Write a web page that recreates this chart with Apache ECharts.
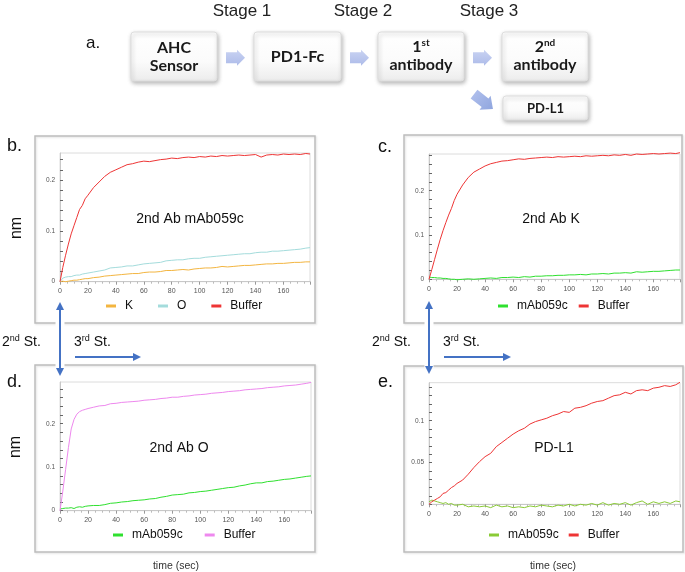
<!DOCTYPE html>
<html><head><meta charset="utf-8">
<script src="https://cdn.jsdelivr.net/npm/echarts@6/dist/echarts.min.js"></script>
<style>html,body{margin:0;padding:0;background:#fff}#c{width:685px;height:572px}</style>
</head><body><div id="c"></div>
<script>
// ---- data ----
const time = [0,2,4,6,8,10,12,14,16,18,20,
  24,28,32,36,40,44,48,52,56,60,
  64,68,72,76,80,84,88,92,96,100,
  104,108,112,116,120,124,128,132,136,140,
  144,148,152,156,160,164,168,172,176,179];

// panel b: 2nd Ab mAb059c
const bK = [0,0.001,0.000,0.001,0.002,0.003,0.003,0.004,0.005,0.006,0.006,
  0.008,0.009,0.011,0.012,0.013,0.014,0.015,0.016,0.016,0.018,
  0.019,0.019,0.020,0.022,0.022,0.023,0.024,0.023,0.025,0.026,
  0.027,0.027,0.028,0.030,0.029,0.030,0.031,0.032,0.032,0.033,
  0.034,0.035,0.035,0.036,0.036,0.037,0.038,0.038,0.039,0.039];
const bO = [0,0.007,0.009,0.010,0.010,0.012,0.013,0.013,0.015,0.016,0.017,
  0.019,0.021,0.023,0.027,0.028,0.029,0.031,0.031,0.033,0.035,
  0.036,0.037,0.038,0.041,0.042,0.043,0.043,0.045,0.046,0.046,
  0.048,0.049,0.050,0.051,0.052,0.053,0.054,0.055,0.055,0.057,
  0.058,0.058,0.060,0.060,0.061,0.062,0.063,0.064,0.066,0.067];
const bBuffer = [0,0.028,0.052,0.074,0.094,0.110,0.126,0.142,0.150,0.163,0.170,
  0.185,0.196,0.207,0.215,0.220,0.225,0.230,0.232,0.235,0.237,
  0.236,0.238,0.240,0.241,0.243,0.242,0.244,0.245,0.244,0.246,
  0.245,0.247,0.246,0.248,0.247,0.248,0.249,0.248,0.249,0.250,
  0.245,0.249,0.250,0.249,0.251,0.250,0.251,0.250,0.252,0.251];

// panel c: 2nd Ab K
const cMab = [0.005,0.004,0.004,0.003,0.003,0.002,0.002,0.001,0.000,0.000,-0.001,
  0.000,0.001,0.000,0.001,0.002,0.003,0.002,0.004,0.004,0.005,
  0.004,0.006,0.005,0.007,0.007,0.008,0.008,0.009,0.009,0.010,
  0.010,0.011,0.010,0.012,0.012,0.013,0.012,0.014,0.014,0.015,
  0.014,0.017,0.016,0.017,0.018,0.018,0.019,0.020,0.021,0.021];
const cBuffer = [0,0.022,0.045,0.068,0.090,0.110,0.128,0.145,0.160,0.178,0.192,
  0.213,0.230,0.242,0.249,0.256,0.261,0.264,0.267,0.268,0.270,
  0.272,0.271,0.273,0.274,0.275,0.276,0.275,0.277,0.276,0.277,
  0.278,0.277,0.279,0.278,0.279,0.280,0.279,0.281,0.280,0.282,
  0.280,0.283,0.282,0.283,0.284,0.283,0.284,0.285,0.284,0.286];

// panel d: 2nd Ab O
const dMab = [0.004,0.005,0.006,0.006,0.007,0.005,0.008,0.009,0.008,0.010,0.011,
  0.012,0.012,0.014,0.017,0.018,0.020,0.021,0.023,0.024,0.025,
  0.027,0.028,0.031,0.033,0.036,0.037,0.038,0.041,0.042,0.044,
  0.045,0.047,0.049,0.051,0.053,0.054,0.057,0.059,0.062,0.064,
  0.064,0.067,0.068,0.070,0.072,0.073,0.075,0.077,0.079,0.080];
const dBuffer = [0,0.045,0.095,0.145,0.188,0.210,0.222,0.228,0.231,0.233,0.235,
  0.238,0.241,0.242,0.246,0.247,0.249,0.250,0.251,0.252,0.254,
  0.255,0.256,0.258,0.259,0.261,0.261,0.263,0.264,0.266,0.267,
  0.268,0.270,0.271,0.272,0.274,0.275,0.276,0.278,0.279,0.280,
  0.281,0.283,0.284,0.285,0.287,0.288,0.289,0.291,0.293,0.295];

// panel e: PD-L1
const eMab = [0.003,0.005,0.004,0.003,0.002,0.001,0.002,0.000,0.001,-0.001,-0.001,
  0.000,-0.003,-0.002,-0.003,-0.002,-0.004,-0.001,-0.003,-0.002,-0.004,
  -0.003,-0.004,-0.002,-0.003,-0.001,-0.002,-0.003,-0.001,-0.002,0.000,
  -0.002,0.000,-0.001,0.001,-0.001,0.002,-0.001,0.001,0.000,0.002,
  -0.001,0.002,0.004,0.000,0.003,0.001,0.003,0.001,0.004,0.003];
const eBuffer = [0.000,0.003,0.005,0.007,0.009,0.013,0.014,0.017,0.020,0.022,0.025,
  0.029,0.036,0.044,0.051,0.057,0.061,0.069,0.074,0.079,0.084,
  0.088,0.091,0.096,0.099,0.101,0.103,0.106,0.108,0.111,0.110,
  0.115,0.116,0.118,0.121,0.123,0.124,0.127,0.130,0.131,0.134,
  0.132,0.136,0.137,0.136,0.139,0.140,0.142,0.141,0.143,0.146];

const stages = ['Stage 1','Stage 2','Stage 3'];
const panelTitles = ['2nd Ab mAb059c','2nd Ab K','2nd Ab O','PD-L1'];
const panelLetters = ['b.','c.','d.','e.'];

// ---- chart ----
const FF = '"Liberation Sans", Arial, sans-serif';
const chart = echarts.init(document.getElementById('c'), null, {renderer:'canvas'});

const grids = [
  {left:60, top:153, width:250, height:128.7},
  {left:429, top:154, width:251, height:125.3},
  {left:60, top:382, width:251, height:128.7},
  {left:429, top:382.7, width:251, height:121.6}
].map(g => Object.assign({show:true, borderColor:'#dcdcdc', borderWidth:1, backgroundColor:'#fff'}, g));

function xAx(g){
  return {type:'value', gridIndex:g, min:0, max:179, interval:20,
    axisLine:{show:true, onZero:false, lineStyle:{color:'#c8c8c8', width:1}},
    axisTick:{show:true, length:3, lineStyle:{color:'#999'}},
    minorTick:{show:true, splitNumber:4, length:2, lineStyle:{color:'#bbb'}},
    axisLabel:{fontSize:7, color:'#555', margin:6, showMaxLabel:false, fontFamily:FF},
    splitLine:{show:false}, minorSplitLine:{show:false}};
}
function yAx(g, max, step, labStep){
  return {type:'value', gridIndex:g, min:0, max:max, interval:step,
    axisLine:{show:true, onZero:false, lineStyle:{color:'#c8c8c8', width:1}},
    axisTick:{show:true, inside:true, length:3, lineStyle:{color:'#666'}},
    axisLabel:{fontSize:6.5, color:'#555', margin:5, showMaxLabel:false, fontFamily:FF,
      formatter: v => { const r = v/labStep; return Math.abs(r-Math.round(r))<1e-6 ? String(+v.toFixed(3)) : ''; }},
    splitLine:{show:false}};
}

function ser(name, g, arr, color){
  return {type:'line', name:name, xAxisIndex:g, yAxisIndex:g, showSymbol:false, symbol:'none',
    clip:false, animation:false, color:color,
    lineStyle:{width:1, color:color},
    data: time.map((t,i)=>[t, arr[i]])};
}

const series = [
  ser('b|K', 0, bK, '#f3b540'),
  ser('b|O', 0, bO, '#a4dcdc'),
  ser('b|Buffer', 0, bBuffer, '#ee3535'),
  ser('c|mAb059c', 1, cMab, '#2fe02f'),
  ser('c|Buffer', 1, cBuffer, '#ee3535'),
  ser('d|mAb059c', 2, dMab, '#2fe02f'),
  ser('d|Buffer', 2, dBuffer, '#ee88ee'),
  ser('e|mAb059c', 3, eMab, '#8acb36'),
  ser('e|Buffer', 3, eBuffer, '#ee3535')
];

function leg(names, left, top, gap){
  return {data:names, left:left, top:top, itemGap:gap, itemWidth:10, itemHeight:3, icon:'rect',
    selectedMode:false, padding:0,
    formatter: n => n.split('|')[1],
    textStyle:{fontSize:12, color:'#111', fontFamily:FF, padding:[0,0,0,4]}};
}

// ---- decorative graphics ----
const G = [];
function txt(x, y, text, font, opts){
  G.push(Object.assign({type:'text', x:x, y:y, z:20,
    style:Object.assign({text:text, font:font, fill:'#111', align:'center', verticalAlign:'middle',
      textAlign:'center', textVerticalAlign:'middle'}, (opts||{}).style||{})}, (opts||{}).el||{}));
}
// stage labels
[242, 363, 489].forEach((x,i)=>txt(x, 11, stages[i], '17px '+FF, {style:{fill:'#222'}}));
txt(86, 43, 'a.', '17px '+FF, {style:{align:'left', textAlign:'left'}});

// flow boxes
const boxGrad = () => new echarts.graphic.LinearGradient(0,0,0,1,[{offset:0,color:'#ffffff'},{offset:0.6,color:'#fbfbfb'},{offset:1,color:'#ececec'}]);
function box(x,y,w,h){
  G.push({type:'rect', z:5, shape:{x:x,y:y,width:w,height:h,r:3},
    style:{fill:boxGrad(), stroke:'#dedede', lineWidth:1, shadowBlur:4, shadowColor:'rgba(0,0,0,0.28)', shadowOffsetX:1, shadowOffsetY:2}});
}
box(131,32,86,49); box(254,32,87,49); box(378,32,86,49); box(502,32,86,49); box(503,96,85,24);
const BF = 'Lato, "Open Sans", sans-serif';
const richB = {b:{fontSize:16, fontWeight:'bold', fontFamily:BF, fill:'#1a1a1a', lineHeight:18},
               s:{fontSize:10, fontWeight:'bold', fontFamily:BF, fill:'#1a1a1a', verticalAlign:'top', lineHeight:18}};
txt(174, 56.5, '{b|AHC}\n{b|Sensor}', '16px '+BF, {style:{rich:richB}});
txt(297.5, 56.5, '{b|PD1-Fc}', '16px '+BF, {style:{rich:richB}});
txt(421, 55.5, '{b|1}{s|st}\n{b|antibody}', '16px '+BF, {style:{rich:richB}});
txt(545, 55.5, '{b|2}{s|nd}\n{b|antibody}', '16px '+BF, {style:{rich:richB}});
txt(545.5, 108.5, 'PD-L1', 'bold 13px '+BF, {style:{fill:'#1a1a1a'}});

// block arrows
const arrGrad = () => new echarts.graphic.LinearGradient(0,0,0,1,[{offset:0,color:'#c9d3f2'},{offset:1,color:'#adbbe9'}]);
function blockArrow(x0, yc){
  G.push({type:'polygon', z:5, shape:{points:[[x0,yc-5.5],[x0+11,yc-5.5],[x0+11,yc-8],[x0+19,yc],[x0+11,yc+8],[x0+11,yc+5.5],[x0,yc+5.5]]},
    style:{fill:arrGrad()}});
}
blockArrow(226,57.8); blockArrow(350,57.8); blockArrow(473,57.8);
(function(){
  const th = 38*Math.PI/180, d=[Math.cos(th),Math.sin(th)], n=[-Math.sin(th),Math.cos(th)];
  const c=[483.5,101.5], L=24, Ls=14, h1=5.5, h2=9;
  const B=[c[0]-d[0]*L/2, c[1]-d[1]*L/2];
  const P=(a,b)=>[B[0]+d[0]*a+n[0]*b, B[1]+d[1]*a+n[1]*b];
  G.push({type:'polygon', z:5, shape:{points:[P(0,h1),P(Ls,h1),P(Ls,h2),P(L,0),P(Ls,-h2),P(Ls,-h1),P(0,-h1)]},
    style:{fill:new echarts.graphic.LinearGradient(0,0,1,1,[{offset:0,color:'#b3c2ee'},{offset:1,color:'#8fa5de'}])}});
})();

// panel frames
[[35,136,280,187],[404,135,278,188],[35,365,280,187],[404,366,279,186]].forEach(r=>{
  G.push({type:'rect', z:1, shape:{x:r[0],y:r[1],width:r[2],height:r[3]},
    style:{fill:null, stroke:'#bdbdbd', lineWidth:1.5, shadowBlur:2, shadowColor:'rgba(0,0,0,0.12)', shadowOffsetX:1, shadowOffsetY:1}});
});
// panel letters
txt(7, 146, panelLetters[0], '18px '+FF, {style:{align:'left', textAlign:'left'}});
txt(378, 147, panelLetters[1], '18px '+FF, {style:{align:'left', textAlign:'left'}});
txt(7, 382, panelLetters[2], '18px '+FF, {style:{align:'left', textAlign:'left'}});
txt(378, 382, panelLetters[3], '18px '+FF, {style:{align:'left', textAlign:'left'}});
// nm labels
txt(17, 228, 'nm', '16px '+FF, {el:{rotation:Math.PI/2}});
txt(16, 447, 'nm', '16px '+FF, {el:{rotation:Math.PI/2}});
// panel titles
txt(190, 219, panelTitles[0], '14px '+FF);
txt(551, 219, panelTitles[1], '14px '+FF);
txt(179, 448, panelTitles[2], '14px '+FF);
txt(554, 448, panelTitles[3], '14px '+FF);
// time (sec)
txt(176, 566, 'time (sec)', '10.5px '+FF, {style:{fill:'#333'}});
txt(553, 566, 'time (sec)', '10.5px '+FF, {style:{fill:'#333'}});

// blue stage arrows
const BLUE = '#4472c4';
function stageArrows(x, yTop, yBot, hx0, hx1, hy, lx){
  G.push({type:'line', z:8, shape:{x1:x,y1:yTop+6,x2:x,y2:yBot-6}, style:{stroke:'#ffffff', lineWidth:9}});
  G.push({type:'line', z:10, shape:{x1:x,y1:yTop+5,x2:x,y2:yBot-5}, style:{stroke:BLUE, lineWidth:2}});
  G.push({type:'polygon', z:10, shape:{points:[[x,yTop],[x-4,yTop+8],[x+4,yTop+8]]}, style:{fill:BLUE}});
  G.push({type:'polygon', z:10, shape:{points:[[x,yBot],[x-4,yBot-8],[x+4,yBot-8]]}, style:{fill:BLUE}});
  G.push({type:'line', z:10, shape:{x1:hx0,y1:hy,x2:hx1-5,y2:hy}, style:{stroke:BLUE, lineWidth:2}});
  G.push({type:'polygon', z:10, shape:{points:[[hx1,hy],[hx1-8,hy-4],[hx1-8,hy+4]]}, style:{fill:BLUE}});
  const rs = {n:{fontSize:14, fontFamily:FF, fill:'#111', lineHeight:16}, s:{fontSize:9, fontFamily:FF, fill:'#111', verticalAlign:'top', lineHeight:16}};
  G.push({type:'text', z:20, x:lx, y:342, style:{text:'{n|2}{s|nd}{n| St.}', rich:rs, align:'left', textAlign:'left', verticalAlign:'middle', textVerticalAlign:'middle'}});
  G.push({type:'text', z:20, x:hx0-1, y:342, style:{text:'{n|3}{s|rd}{n| St.}', rich:rs, align:'left', textAlign:'left', verticalAlign:'middle', textVerticalAlign:'middle'}});
}
stageArrows(60, 302, 376, 75, 141, 357, 2);
stageArrows(429, 301, 374, 444, 511, 357, 372);

chart.setOption({
  animation:false,
  backgroundColor:'#ffffff',
  grid: grids,
  xAxis: [xAx(0), xAx(1), xAx(2), xAx(3)],
  yAxis: [yAx(0,0.253,0.02,0.1), yAx(1,0.283,0.02,0.1), yAx(2,0.296,0.02,0.1), yAx(3,0.1455,0.01,0.05)],
  legend: [
    leg(['b|K','b|O','b|Buffer'], 106, 300, 25),
    leg(['c|mAb059c','c|Buffer'], 498, 300, 11),
    leg(['d|mAb059c','d|Buffer'], 113, 529, 22),
    leg(['e|mAb059c','e|Buffer'], 489, 529, 10)
  ],
  series: series,
  graphic: G
});
</script>
</body></html>
